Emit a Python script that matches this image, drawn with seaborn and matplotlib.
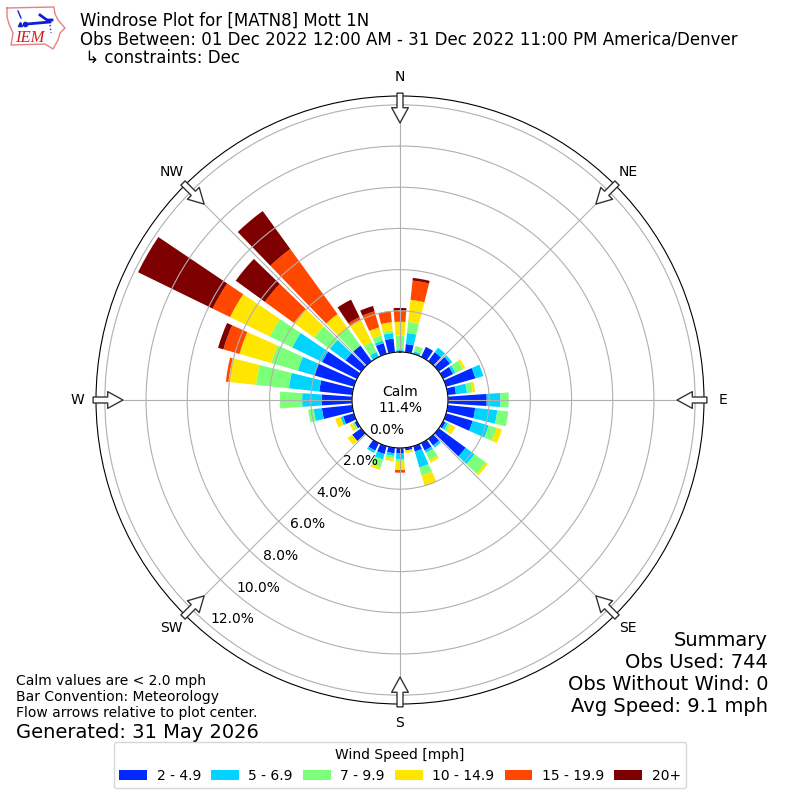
import numpy as np
import pandas as pd
import matplotlib
matplotlib.use("Agg")
import matplotlib.pyplot as plt
import seaborn as sns

# direction the wind comes from, degrees
directions = list(range(0, 360, 10))

# percent of observations per direction, one list per speed class
speed_2_5 = [0, .40, 0, .54, .54, .67, .54, 1.48, .40, 1.88, 1.34, 1.34, .13, 1.61, .40, .40, .27, .13,
             .27, .27, .40, .40, 0, .54, .13, .54, 1.48, 1.48, 1.61, 2.02, 1.88, .94, .94, 0, .54, .67]
speed_5_7 = [.13, .54, .13, 0, .27, .13, .13, .40, .54, .67, 1.08, .81, .13, .54, .13, .13, .81, 0,
             .27, .13, .27, .13, 0, 0, 0, .13, .40, .94, 1.48, .81, 1.61, .94, 0, .27, .13, .27]
speed_7_10 = [.67, .54, .27, 0, 0, 0, .40, 0, .27, .40, .54, .40, .13, .67, 0, .40, .40, 0,
              .13, .13, .40, 0, 0, 0, .13, 0, .27, 1.08, 1.61, 1.34, 1.21, .94, 1.08, .54, .27, .13]
speed_10_15 = [.67, 1.08, 0, 0, 0, 0, .13, 0, .13, 0, 0, .27, .27, .13, 0, .13, .54, .13,
               .40, .13, .13, 0, 0, .27, .13, .27, 0, 0, 1.34, 1.61, 2.15, 1.21, .81, 1.21, .40, .40]
speed_15_20 = [.54, .94, 0, 0, 0, 0, 0, 0, 0, 0, 0, 0, 0, 0, 0, 0, 0, 0,
               .13, 0, 0, 0, 0, 0, 0, 0, 0, 0, .13, .81, .94, 1.75, 3.90, .13, .81, .54]
speed_20 = [.13, .13, 0, 0, 0, 0, 0, 0, 0, 0, 0, 0, 0, 0, 0, 0, 0, 0,
            0, 0, 0, 0, 0, 0, 0, 0, 0, 0, 0, .27, 4.03, 1.75, 2.28, .94, .27, 0]

speed_labels = ["2 - 4.9", "5 - 6.9", "7 - 9.9", "10 - 14.9", "15 - 19.9", "20+"]
speed_colors = ["#0028ff", "#00d4ff", "#7cff79", "#ffe600", "#ff4700", "#7f0000"]
radial_ticks = [0, 2, 4, 6, 8, 10, 12]
compass_angles = [0, 45, 90, 135, 180, 225, 270, 315]
compass_labels = ["N", "NE", "E", "SE", "S", "SW", "W", "NW"]

fig = plt.figure(figsize=(8, 8), dpi=100)
ax = fig.add_axes([0.12, 0.12, 0.76, 0.76], projection="polar")
ax.set_theta_zero_location("N")
ax.set_theta_direction(-1)

theta = np.deg2rad(directions)
bottom = np.zeros(len(directions))
all_speeds = [speed_2_5, speed_5_7, speed_7_10, speed_10_15, speed_15_20, speed_20]
for values, label, color in zip(all_speeds, speed_labels, speed_colors):
    df = pd.DataFrame({"theta": theta, "pct": values})
    sns.barplot(data=df, x="theta", y="pct", native_scale=True, width=0.8, color=color,
                saturation=1, errorbar=None, linewidth=0, bottom=bottom, label=label, ax=ax)
    bottom = bottom + np.array(values)

ax.set(xlabel="", ylabel="")
ax.set_xlim(0, 2 * np.pi)
ax.set_ylim(0, 12.43)
ax.set_rorigin(-2.33)
ax.set_thetagrids(compass_angles, compass_labels)
ax.tick_params(axis="x", pad=3)
ax.set_rticks(radial_ticks)
ax.set_yticklabels([f"{t:.1f}%" for t in radial_ticks])
ax.set_rlabel_position(220)
ax.grid(True)

# hollow flow arrows on the rim
for angle in compass_angles:
    ax.annotate("", xy=(np.deg2rad(angle), 11.12), xytext=(np.deg2rad(angle), 12.57),
                annotation_clip=False,
                arrowprops=dict(arrowstyle="simple,head_length=1.1,head_width=1.2,tail_width=0.43",
                                mutation_scale=10, fc="white", ec="#333333", lw=1,
                                shrinkA=0, shrinkB=0))

ax.text(0.5, 0.5, "Calm\n11.4%", transform=ax.transAxes, ha="center", va="center", fontsize=10)

# seaborn adds its own legend, the figure one goes below the rose
handles, labels = ax.get_legend_handles_labels()
if ax.get_legend() is not None:
    ax.get_legend().remove()
fig.legend(handles, labels, title="Wind Speed [mph]", ncol=6, loc="lower center",
           bbox_to_anchor=(0.5, 0.006), fontsize=10, columnspacing=0.72, handletextpad=0.7)

fig.text(0.1, 0.985,
         "Windrose Plot for [MATN8] Mott 1N\n"
         "Obs Between: 01 Dec 2022 12:00 AM - 31 Dec 2022 11:00 PM America/Denver\n"
         " \u21b3 constraints: Dec",
         va="top", fontsize=12, linespacing=1.03)
fig.text(0.96, 0.105, "Summary\nObs Used: 744\nObs Without Wind: 0\nAvg Speed: 9.1 mph",
         ha="right", va="bottom", fontsize=14)
fig.text(0.02, 0.1, "Calm values are < 2.0 mph\nBar Convention: Meteorology\nFlow arrows relative to plot center.",
         va="bottom", fontsize=10)
fig.text(0.02, 0.073, "Generated: 31 May 2026", va="bottom", fontsize=14)

# small IEM logo, drawn in pixel coordinates
logo = fig.add_axes([0, 0.93, 0.0875, 0.07])
logo.set_xlim(0, 70)
logo.set_ylim(56, 0)
logo.axis("off")
outline_x = [7, 54, 55, 58, 65, 60, 58, 53, 45, 11, 13, 9, 7, 7]
outline_y = [8, 7, 14, 20, 28, 33, 40, 49, 44, 45, 33, 24, 17, 8]
logo.plot(outline_x, outline_y, color="#e88080", lw=1)
logo.plot([27, 50], [24, 22], color="#1020d0", lw=2)
logo.plot([40, 47, 52], [15, 20, 20], color="#1020d0", lw=2)
logo.plot([18, 21], [11, 18], color="#1020d0", lw=1)
logo.plot([50, 51], [25, 33], color="#1020d0", lw=1, ls=":")
logo.plot([25], [24], "o", color="#1020d0", ms=3)
logo.plot([20], [24], "^", color="#1020d0", ms=3)
logo.text(30, 38, "IEM", color="#d02020", family="Liberation Serif", style="italic",
          fontsize=12, ha="center", va="center")

fig.savefig("out.png", dpi=100)
